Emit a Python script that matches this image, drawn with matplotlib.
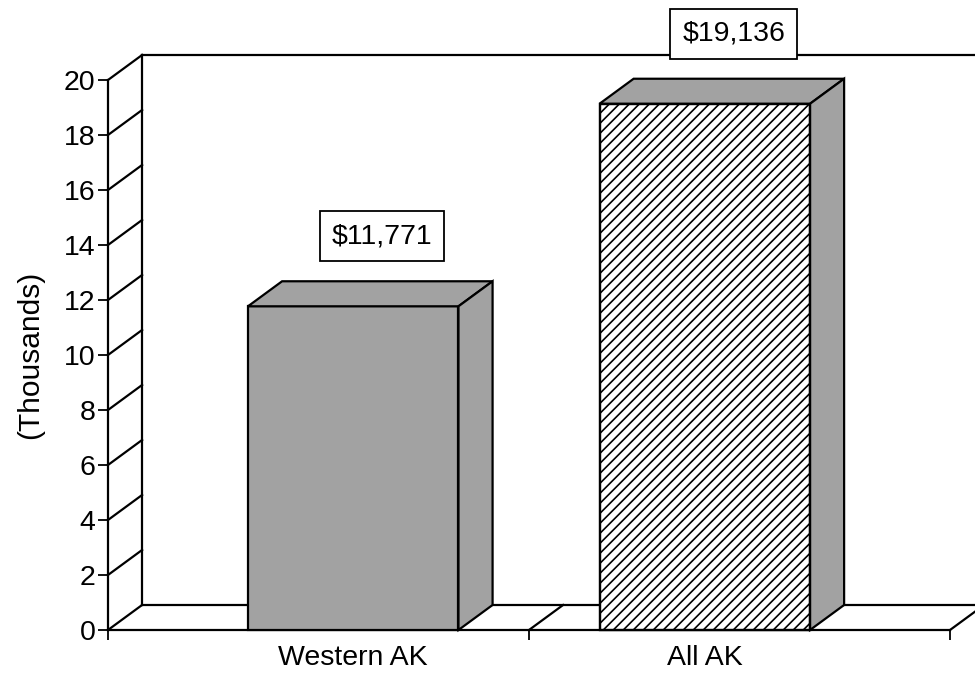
import matplotlib
matplotlib.use("Agg")
import matplotlib.pyplot as plt
from matplotlib.patches import Polygon, Rectangle

plt.rcParams['font.family'] = ['Liberation Sans', 'DejaVu Sans']

categories = ["Western AK", "All AK"]
values = [11.771, 19.136]  # thousands of dollars
value_labels = ["$11,771", "$19,136"]
yticks = list(range(0, 21, 2))

# 3-d look: depth offset in data units
DX = 0.081
DY = 0.91
BAR_W = 0.5
GRAY = '#a2a2a2'
LW = 1.6
FS = 20.5

fig = plt.figure(figsize=(9.75, 6.75), dpi=100)
ax = fig.add_axes([108 / 975, 45 / 675, 842 / 975, 550 / 675])
ax.set_xlim(0, 2)
ax.set_ylim(0, 20)

# pixels per data unit, used for the hand drawn hatching
bb = ax.get_window_extent()
ppx = bb.width / 2
ppy = bb.height / 20

for side in ['top', 'right']:
    ax.spines[side].set_visible(False)
for side in ['left', 'bottom']:
    ax.spines[side].set_linewidth(LW)

# left wall, back wall, floor
ax.plot([DX, DX], [DY, 20 + DY], color='black', lw=LW, clip_on=False)
ax.plot([DX, 2 + DX + 0.05], [20 + DY, 20 + DY], color='black', lw=LW, clip_on=False)
ax.plot([DX, 2 + DX + 0.05], [DY, DY], color='black', lw=LW, clip_on=False)
for t in yticks:
    ax.plot([0, DX], [t, t + DY], color='black', lw=LW, clip_on=False)
for xb in [1, 2]:
    ax.plot([xb, xb + DX], [0, DY], color='black', lw=LW, clip_on=False)

# bars
centers = [1 + (i - 0.5) * 0.835 for i in range(len(categories))]
for i, (c, v) in enumerate(zip(centers, values)):
    x0, x1 = c - BAR_W / 2, c + BAR_W / 2
    face = GRAY if i == 0 else 'white'
    front = Rectangle((x0, 0), BAR_W, v, fc=face, ec='black', lw=LW, zorder=3)
    top = Polygon([(x0, v), (x1, v), (x1 + DX, v + DY), (x0 + DX, v + DY)],
                  closed=True, fc=GRAY, ec='black', lw=LW, zorder=3)
    side = Polygon([(x1, 0), (x1 + DX, DY), (x1 + DX, v + DY), (x1, v)],
                   closed=True, fc=GRAY, ec='black', lw=LW, zorder=3)
    for p in (front, top, side):
        p.set_clip_on(False)
        ax.add_patch(p)

    if i == 1:
        # diagonal hatching, 45 degrees on screen, 10 px apart
        run = v * ppy / ppx
        step = 10 / ppx
        s = x0 - run
        while s < x1:
            ln, = ax.plot([s, s + run], [0, v], color='black', lw=1.2, zorder=3.5)
            ln.set_clip_path(front)
            s += step
        # redraw the outline on top of the hatching
        ax.add_patch(Rectangle((x0, 0), BAR_W, v, fc='none', ec='black', lw=LW,
                               zorder=3.6, clip_on=False))

    ax.text(c + DX * 0.85, v + DY + 1.63, value_labels[i], ha='center', va='center',
            fontsize=FS, zorder=4,
            bbox=dict(boxstyle='square,pad=0.42', fc='white', ec='black', lw=1.3))

ax.set_yticks(yticks)
ax.tick_params(axis='y', direction='out', length=7, width=1.3, pad=2, labelsize=FS)
ax.set_xticks(centers)
ax.set_xticklabels(categories)
ax.tick_params(axis='x', length=0, pad=11, labelsize=FS)
ax.set_xticks([0, 1, 2], minor=True)
ax.tick_params(axis='x', which='minor', direction='out', length=7, width=1.3)
ax.set_ylabel("(Thousands)", fontsize=21.5, labelpad=14)

fig.savefig("out.png", dpi=100)
